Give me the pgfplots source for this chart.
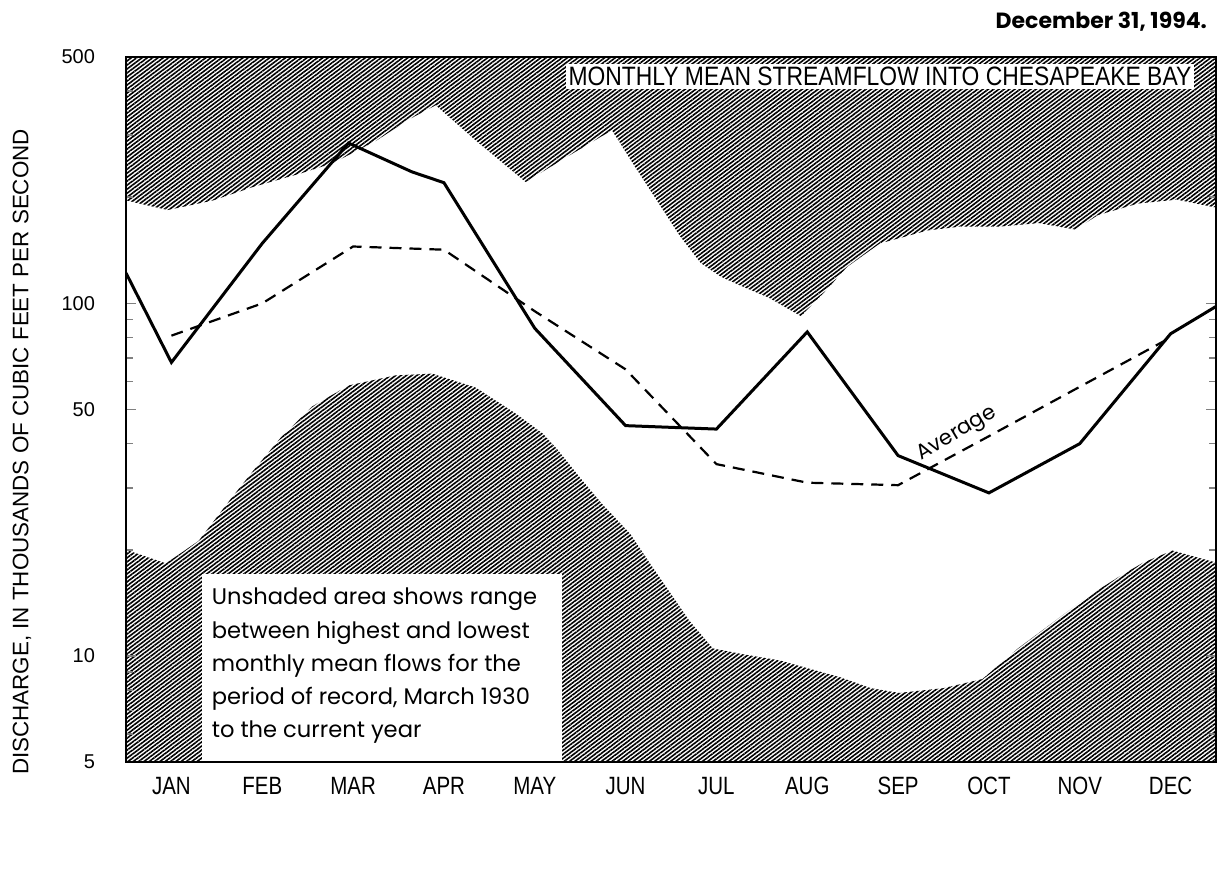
\documentclass[border=0pt]{standalone}
\usepackage{fontspec}
\setmainfont{Liberation Sans}
\newfontfamily\geo{Poppins}
\usepackage{pgfplots}
\pgfplotsset{compat=1.18}
\usetikzlibrary{patterns.meta}

\begin{document}
\begin{tikzpicture}[x=1pt,y=1pt]
\path[use as bounding box] (-63,-64) rectangle (547,381);
\begin{axis}[
  scale only axis, width=545pt, height=352.5pt,
  at={(0,0)}, anchor=south west,
  ymode=log, xmin=0, xmax=12, ymin=5, ymax=500,
  xtick={0.5,1.5,2.5,3.5,4.5,5.5,6.5,7.5,8.5,9.5,10.5,11.5},
  xticklabels={\scalebox{.82}[1]{JAN},\scalebox{.82}[1]{FEB},\scalebox{.82}[1]{MAR},\scalebox{.82}[1]{APR},\scalebox{.82}[1]{MAY},\scalebox{.82}[1]{JUN},\scalebox{.82}[1]{JUL},\scalebox{.82}[1]{AUG},\scalebox{.82}[1]{SEP},\scalebox{.82}[1]{OCT},\scalebox{.82}[1]{NOV},\scalebox{.82}[1]{DEC}},
  xticklabel style={font=\fontsize{12.5}{14}\selectfont, yshift=-4pt},
  xtick style={draw=none},
  ytick={5,10,50,100,500},
  yticklabels={5,10,50,100,500},
  minor ytick={6,7,8,9,20,30,40,60,70,80,90,200,300,400},
  yticklabel style={font=\fontsize{10}{12}\selectfont, xshift=-12pt},
  ytick pos=both, yticklabel pos=left,
  tick align=inside,
  major tick length=5pt, minor tick length=3.5pt,
  ytick style={line width=0.8pt},
  axis line style={line width=1.3pt},
  axis on top,
  clip=true,
]
% upper shaded region (above highest monthly mean)
\addplot[draw=none, pattern={Lines[angle=37,distance=1.6pt,line width=0.8pt]}, pattern color=black] coordinates {
(0,196) (0.46,184) (0.96,196) (1.4,214) (1.93,234) (2.28,250) (2.76,290) (3.1,331) (3.41,365)
(3.85,290) (4.4,221) (4.85,260) (5.35,310) (5.6,245) (5.85,195) (6.1,155) (6.33,130)
(6.55,119) (6.81,111) (7.07,104) (7.43,92) (7.68,107) (7.94,127) (8.3,148) (8.55,154)
(8.82,161) (9.17,165) (9.6,165) (10.05,169) (10.45,162) (10.7,178) (11.14,192) (11.57,197)
(12,187) (12,500) (0,500)
};
% lower shaded region (below lowest monthly mean)
\addplot[draw=none, pattern={Lines[angle=37,distance=1.6pt,line width=0.8pt]}, pattern color=black] coordinates {
(0,20) (0.44,18.3) (0.8,21.2) (1.14,27.6) (1.4,33.5) (1.7,41.5) (2.05,51) (2.45,58.5) (2.97,62.5)
(3.37,63.2) (3.85,57.7) (4.29,48.7) (4.59,42.7) (4.75,38.5) (5.0,32) (5.24,27) (5.55,22.2)
(5.8,17.8) (6.2,12.6) (6.46,10.5) (6.8,10.1) (7.2,9.7) (7.86,8.7) (8.2,8.1) (8.51,7.85)
(9.0,8.1) (9.43,8.6) (9.82,10.5) (10.27,12.8) (10.6,14.8) (10.92,16.7) (11.2,18.4) (11.52,19.9)
(12,18.4) (12,5) (0,5)
};
% explanation box
\fill[white] (axis cs:0.84,5) rectangle (axis cs:4.8,17.1);
\node[anchor=north west, align=left, inner sep=0pt, font=\geo\fontsize{11.3}{16.6}\selectfont]
  at (axis cs:0.94,15.6) {Unshaded area shows range\\between highest and lowest\\monthly mean flows for the\\period of record, March 1930\\to the current year};
% title box
\node[fill=white, inner sep=1.5pt, font=\fontsize{13.3}{15}\selectfont]
  at (axis cs:8.3,440) {\scalebox{.86}[1]{MONTHLY MEAN STREAMFLOW INTO CHESAPEAKE BAY}};
% average
\addplot[black, line width=1.1pt, dash pattern=on 6pt off 4pt] coordinates {
(0.5,81) (1.5,100) (2.5,145) (3.5,142) (4.5,95) (5.5,65) (6.5,35) (7.5,31) (8.5,30.5)
(9.5,42) (10.5,58) (11.5,80)
};
% current year
\addplot[black, line width=1.5pt] coordinates {
(0,122) (0.5,68) (1.5,148) (2.45,285) (3.15,236) (3.5,220) (4.5,85) (5.5,45) (6.5,44)
(7.5,83) (8.5,37) (9.5,29) (10.5,40) (11.5,82) (12,98)
};
\node[rotate=31, font=\geo\fontsize{10.5}{12}\selectfont] at (axis cs:9.15,42.5) {Average};
\end{axis}
\node[anchor=east, font=\geo\bfseries\fontsize{11}{13}\selectfont] at (544,370) {December 31, 1994.};
\node[rotate=90, font=\fontsize{11.2}{13}\selectfont] at (-52,155) {DISCHARGE, IN THOUSANDS OF CUBIC FEET PER SECOND};
\end{tikzpicture}
\end{document}
